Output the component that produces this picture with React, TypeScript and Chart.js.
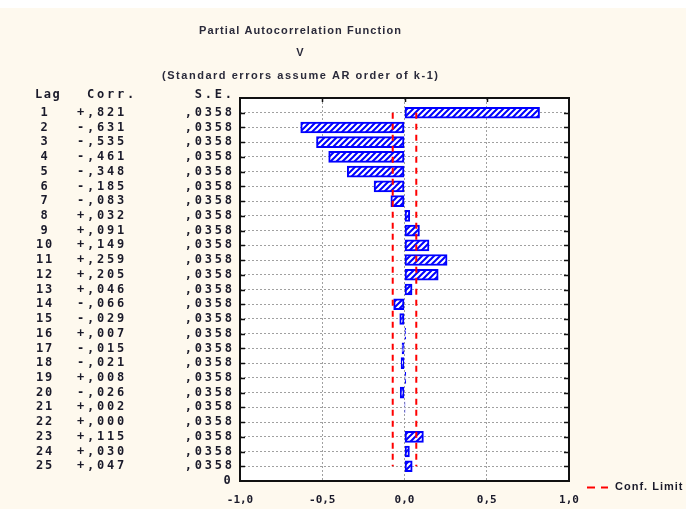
import React, { useEffect, useRef } from "react";
import { Chart, registerables } from "chart.js";

Chart.register(...registerables);

// ---- data ----
const lags = [1, 2, 3, 4, 5, 6, 7, 8, 9, 10, 11, 12, 13, 14, 15, 16, 17, 18, 19, 20, 21, 22, 23, 24, 25];
const corr = [
  0.821, -0.631, -0.535, -0.461, -0.348, -0.185, -0.083, 0.032, 0.091, 0.149, 0.259, 0.205, 0.046,
  -0.066, -0.029, 0.007, -0.015, -0.021, 0.008, -0.026, 0.002, 0.0, 0.115, 0.03, 0.047,
];
const stdErr = [
  0.0358, 0.0358, 0.0358, 0.0358, 0.0358, 0.0358, 0.0358, 0.0358, 0.0358, 0.0358, 0.0358, 0.0358, 0.0358,
  0.0358, 0.0358, 0.0358, 0.0358, 0.0358, 0.0358, 0.0358, 0.0358, 0.0358, 0.0358, 0.0358, 0.0358,
];
const xTicks = [-1, -0.5, 0, 0.5, 1];
const confLimit = 2 * 0.0358;

const titleText = "Partial Autocorrelation Function";
const varText = "V";
const subtitleText = "(Standard errors assume AR order of k-1)";
const headerLag = "Lag";
const headerCorr = "Corr.";
const headerSE = "S.E.";
const legendText = "Conf. Limit";
const bottomYLabel = "0";

const BG = "#fef9ee";
const BLUE = "#0000ff";
const RED = "#ff0000";
const TXT = "#1a1a2a";

const fmtCorr = (v: number) => (v < 0 ? "-" : "+") + "," + Math.round(Math.abs(v) * 1000).toString().padStart(3, "0");
const fmtSE = (v: number) => "," + Math.round(v * 10000).toString().padStart(4, "0");
const fmtTick = (v: number) => v.toFixed(1).replace(".", ",");

function drawSpaced(ctx: any, text: string, x: number, y: number, align: string, spacing: number) {
  ctx.letterSpacing = spacing + "px";
  const w = ctx.measureText(text).width - spacing;
  let left = x;
  if (align === "center") left = x - w / 2;
  else if (align === "right") left = x - w;
  ctx.textAlign = "left";
  ctx.fillText(text, left, y);
  ctx.letterSpacing = "0px";
}

function drawFit(ctx: any, text: string, cx: number, y: number, target: number) {
  ctx.letterSpacing = "0px";
  const w0 = ctx.measureText(text).width;
  const sp = (target - w0) / (text.length - 1);
  drawSpaced(ctx, text, cx, y, "center", sp);
}

function makeHatch(): CanvasPattern | string {
  const c = document.createElement("canvas");
  c.width = 6;
  c.height = 6;
  const g = c.getContext("2d");
  if (!g) return "#fff";
  g.fillStyle = "#ffffff";
  g.fillRect(0, 0, 6, 6);
  g.strokeStyle = BLUE;
  g.lineWidth = 2;
  g.beginPath();
  g.moveTo(-1, 7);
  g.lineTo(7, -1);
  g.moveTo(-4, 4);
  g.lineTo(4, -4);
  g.moveTo(2, 10);
  g.lineTo(10, 2);
  g.stroke();
  const p = g.createPattern(c, "repeat");
  return p || "#fff";
}

const decorPlugin = {
  id: "decor",
  beforeDraw(chart: any) {
    const { ctx, chartArea: a, width, height } = chart;
    ctx.save();
    ctx.fillStyle = BG;
    ctx.fillRect(0, 0, width, height);
    ctx.fillStyle = "#ffffff";
    ctx.fillRect(0, 0, width, 8);
    ctx.fillRect(a.left, a.top, a.right - a.left, a.bottom - a.top);
    ctx.restore();
  },
  afterDraw(chart: any) {
    const { ctx, chartArea: a } = chart;
    const x = chart.scales.x;
    const y = chart.scales.y;
    ctx.save();
    // frame
    ctx.strokeStyle = "#111";
    ctx.lineWidth = 2;
    ctx.strokeRect(a.left, a.top, a.right - a.left, a.bottom - a.top);
    // inner ticks
    ctx.lineWidth = 1.5;
    ctx.beginPath();
    lags.forEach((l) => {
      const py = Math.round(y.getPixelForValue(l)) + 0.5;
      ctx.moveTo(a.left, py);
      ctx.lineTo(a.left + 5, py);
      ctx.moveTo(a.right - 5, py);
      ctx.lineTo(a.right, py);
    });
    xTicks.slice(1, -1).forEach((t) => {
      const px = Math.round(x.getPixelForValue(t)) + 0.5;
      ctx.moveTo(px, a.top);
      ctx.lineTo(px, a.top + 4);
    });
    ctx.stroke();

    // titles
    const midX = 300;
    ctx.fillStyle = "#2a2a3a";
    ctx.textBaseline = "middle";
    ctx.font = "bold 11px 'Liberation Sans', Arial, sans-serif";
    drawFit(ctx, titleText, midX, 31, 202);
    drawSpaced(ctx, varText, midX, 53, "center", 0);
    drawFit(ctx, subtitleText, midX, 76, 276);

    // table
    ctx.fillStyle = TXT;
    ctx.font = "bold 12px 'DejaVu Sans Mono', monospace";
    const sp = 2.8;
    const hy = y.getPixelForValue(0) - 3;
    drawSpaced(ctx, headerLag, 35, hy, "left", 1.5);
    drawSpaced(ctx, headerCorr, 87, hy, "left", sp);
    drawSpaced(ctx, headerSE, 232, hy, "right", sp);
    lags.forEach((l, i) => {
      const py = y.getPixelForValue(l);
      drawSpaced(ctx, String(l), 44, py, "center", sp - 1);
      drawSpaced(ctx, fmtCorr(corr[i]), 77, py, "left", sp);
      drawSpaced(ctx, fmtSE(stdErr[i]), 232, py, "right", sp);
    });
    drawSpaced(ctx, bottomYLabel, 227, y.getPixelForValue(26), "center", 0);

    // legend
    ctx.strokeStyle = RED;
    ctx.lineWidth = 2;
    ctx.beginPath();
    ctx.moveTo(587, 487.5);
    ctx.lineTo(595, 487.5);
    ctx.moveTo(601, 487.5);
    ctx.lineTo(608, 487.5);
    ctx.stroke();
    ctx.fillStyle = TXT;
    ctx.font = "bold 11px 'Liberation Sans', Arial, sans-serif";
    drawSpaced(ctx, legendText, 615, 487, "left", 1);
    ctx.restore();
  },
};

export default function App() {
  const ref = useRef<HTMLCanvasElement | null>(null);
  useEffect(() => {
    if (!ref.current) return;
    const hatch = makeHatch();
    const first = lags[0];
    const last = lags[lags.length - 1];
    const chart = new Chart(ref.current, {
      type: "bar",
      data: {
        datasets: [
          {
            type: "bar",
            indexAxis: "y",
            data: lags.map((l, i) => ({ x: corr[i], y: l })),
            backgroundColor: hatch as any,
            borderColor: BLUE,
            borderWidth: 2,
            borderSkipped: false,
            barThickness: 11,
            order: 2,
          } as any,
          {
            type: "line",
            data: [
              { x: -confLimit, y: first },
              { x: -confLimit, y: last },
            ],
            borderColor: RED,
            borderWidth: 2,
            borderDash: [6, 5],
            pointRadius: 0,
            fill: false,
            order: 1,
          } as any,
          {
            type: "line",
            data: [
              { x: confLimit, y: first },
              { x: confLimit, y: last },
            ],
            borderColor: RED,
            borderWidth: 2,
            borderDash: [6, 5],
            pointRadius: 0,
            fill: false,
            order: 1,
          } as any,
        ],
      },
      options: {
        responsive: false,
        maintainAspectRatio: false,
        animation: false,
        layout: { padding: { left: 240, right: 117, top: 98, bottom: 0 } },
        scales: {
          x: {
            type: "linear",
            min: -1,
            max: 1,
            offset: false,
            afterBuildTicks: (s: any) => {
              s.ticks = xTicks.map((v) => ({ value: v }));
            },
            afterFit: (s: any) => {
              s.height = 28;
            },
            ticks: {
              callback: (v: any) => fmtTick(Number(v)),
              font: { family: "'DejaVu Sans Mono', monospace", size: 11, weight: "bold" },
              color: TXT,
              padding: 13,
              maxRotation: 0,
            },
            grid: { color: "#a0a0a0", drawTicks: false, lineWidth: 1, offset: false, borderDash: [2, 2] } as any,
            border: { display: false, dash: [2, 2] },
          },
          y: {
            type: "linear",
            min: 0,
            max: 26,
            reverse: true,
            offset: false,
            afterBuildTicks: (s: any) => {
              s.ticks = lags.map((v) => ({ value: v }));
            },
            afterFit: (s: any) => {
              s.width = 0;
            },
            ticks: { display: false },
            grid: { color: "#a0a0a0", drawTicks: false, lineWidth: 1, offset: false, borderDash: [2, 2] } as any,
            border: { display: false, dash: [2, 2] },
          },
        },
        plugins: {
          legend: { display: false },
          tooltip: { enabled: false },
        },
      } as any,
      plugins: [decorPlugin],
    });
    return () => chart.destroy();
  }, []);
  return (
    <div style={{ position: "absolute", left: 0, top: 0, width: 686, height: 509, background: BG }}>
      <canvas ref={ref} width={686} height={509} style={{ display: "block", width: 686, height: 509 }} />
    </div>
  );
}
